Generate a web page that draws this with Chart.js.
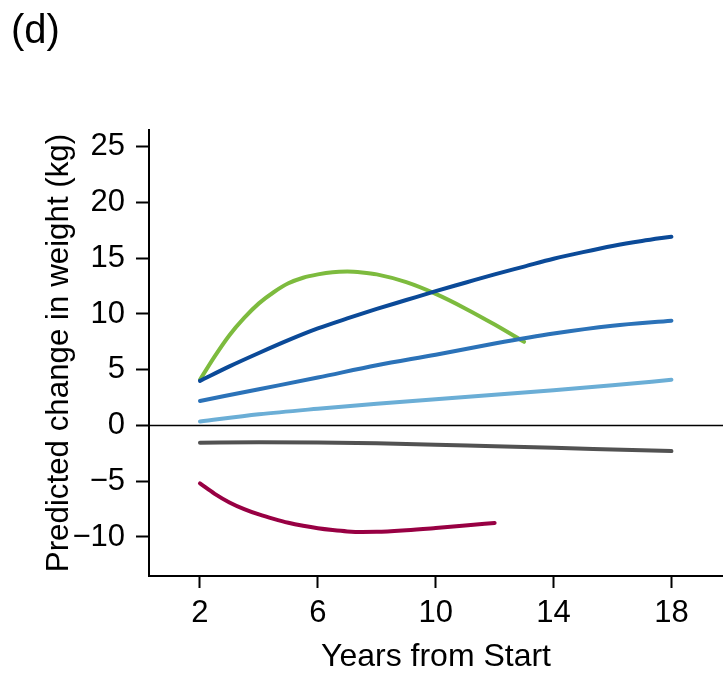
<!DOCTYPE html>
<html>
<head>
<meta charset="utf-8">
<script src="https://cdn.jsdelivr.net/npm/chart.js@4.4.1/dist/chart.umd.min.js"></script>
<style>
  html, body { margin: 0; padding: 0; background: #fff; }
  #wrap { width: 723px; height: 676px; position: relative; }
</style>
</head>
<body>
<div id="wrap"><canvas id="myChart"></canvas></div>
<script>
'use strict';

// values (kg change by years from start)
let panelLabel = '(d)';
let xTicks = [2, 6, 10, 14, 18];
let yTicks = [-10, -5, 0, 5, 10, 15, 20, 25];

let yearsEven = [2, 4, 6, 8, 10, 12, 14, 16, 18];
let midBlue = [2.2, 3.25, 4.3, 5.4, 6.35, 7.35, 8.25, 8.95, 9.4];
let lightBlue = [0.35, 1.0, 1.5, 1.95, 2.35, 2.75, 3.15, 3.6, 4.1];
let grey = [-1.55, -1.5, -1.52, -1.6, -1.72, -1.87, -2.0, -2.15, -2.3];

let yearsDark = [2, 3, 4, 5, 6, 7, 8, 9, 10, 11, 12, 13, 14, 15, 16, 17, 18];
let darkBlue = [4.0, 5.3, 6.5, 7.65, 8.7, 9.6, 10.45, 11.25, 12.05, 12.8, 13.55, 14.25, 14.95, 15.55, 16.1, 16.55, 16.93];

let yearsGreen = [2, 2.5, 3, 3.5, 4, 4.5, 5, 5.5, 6, 6.5, 7, 7.5, 8, 9, 10, 11, 12, 13];
let green = [4.1, 6.2, 8.1, 9.65, 10.95, 11.95, 12.75, 13.25, 13.55, 13.75, 13.8, 13.72, 13.55, 12.85, 11.8, 10.5, 9.05, 7.5];

let yearsRed = [2, 2.5, 3, 3.5, 4, 4.5, 5, 5.5, 6, 6.5, 7, 7.5, 8, 9, 10, 11, 12];
let crimson = [-5.2, -6.13, -6.9, -7.5, -7.98, -8.38, -8.73, -9.0, -9.22, -9.38, -9.5, -9.55, -9.54, -9.4, -9.2, -8.98, -8.74];

function pts(xs, ys) {
  let out = [];
  for (let i = 0; i < xs.length; i++) {
    out.push({ x: xs[i], y: ys[i] });
  }
  return out;
}

function line(label, xs, ys, color) {
  return {
    label: label,
    data: pts(xs, ys),
    borderColor: color,
    borderWidth: 4,
    pointRadius: 0,
    fill: false,
    cubicInterpolationMode: 'monotone',
    borderCapStyle: 'round'
  };
}

let fontFam = '"Liberation Sans", Arial, Helvetica, sans-serif';

// zero line and panel letter
let extras = {
  id: 'extras',
  beforeDatasetsDraw(chart) {
    let ctx = chart.ctx;
    let x = chart.scales.x;
    let y0 = chart.scales.y.getPixelForValue(0);
    ctx.save();
    ctx.strokeStyle = '#000';
    ctx.lineWidth = 1.5;
    ctx.beginPath();
    ctx.moveTo(x.left, y0);
    ctx.lineTo(x.right, y0);
    ctx.stroke();
    ctx.restore();
  },
  afterDraw(chart) {
    let ctx = chart.ctx;
    ctx.save();
    ctx.fillStyle = '#000';
    ctx.font = '40px ' + fontFam;
    ctx.textBaseline = 'alphabetic';
    ctx.fillText(panelLabel, 11, 43);
    ctx.restore();
  }
};

let canvasElem = document.getElementById('myChart');

new Chart(canvasElem, {
  type: 'line',
  data: {
    datasets: [
      line('grey', yearsEven, grey, '#525252'),
      line('crimson', yearsRed, crimson, '#980043'),
      line('light blue', yearsEven, lightBlue, '#6baed6'),
      line('mid blue', yearsEven, midBlue, '#2b72b8'),
      line('dark blue', yearsDark, darkBlue, '#0b4a98'),
      line('green', yearsGreen, green, '#7dbb3e')
    ]
  },
  options: {
    responsive: true,
    maintainAspectRatio: false,
    animation: false,
    layout: { padding: { top: 130, right: 0, left: 0, bottom: 0 } },
    plugins: {
      legend: { display: false },
      tooltip: { enabled: false }
    },
    scales: {
      x: {
        type: 'linear',
        min: 0.27,
        max: 19.75,
        afterBuildTicks: (s) => { s.ticks = xTicks.map(v => ({ value: v })); },
        afterFit: (s) => { s.height = 100; },
        grid: { display: true, drawOnChartArea: false, drawTicks: true, tickLength: 12, tickColor: '#000', tickWidth: 2 },
        border: { display: true, color: '#000', width: 2 },
        ticks: { color: '#000', font: { family: fontFam, size: 31 }, padding: 7, maxRotation: 0 },
        title: { display: true, text: 'Years from Start', color: '#000', font: { family: fontFam, size: 32 }, padding: { top: 6, bottom: 0 } }
      },
      y: {
        type: 'linear',
        min: -13.5,
        max: 26.5,
        afterBuildTicks: (s) => { s.ticks = yTicks.map(v => ({ value: v })); },
        afterFit: (s) => { s.width = 149; },
        grid: { display: true, drawOnChartArea: false, drawTicks: true, tickLength: 13, tickColor: '#000', tickWidth: 2 },
        border: { display: true, color: '#000', width: 2 },
        ticks: {
          color: '#000',
          font: { family: fontFam, size: 31 },
          padding: 11,
          callback: (v) => (v < 0 ? '\u2212' + Math.abs(v) : String(v))
        },
        title: { display: true, text: 'Predicted change in weight (kg)', color: '#000', font: { family: fontFam, size: 31.3 }, padding: { top: 41, bottom: 0 } }
      }
    }
  },
  plugins: [extras]
});
</script>
</body>
</html>
